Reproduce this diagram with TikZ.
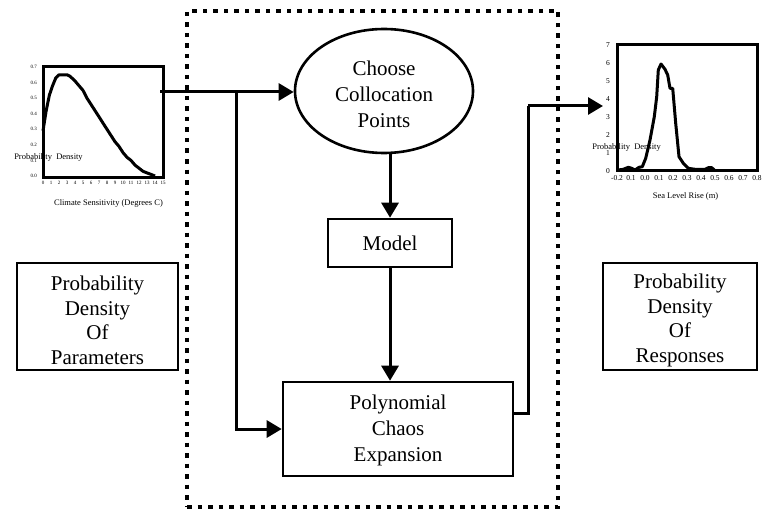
\documentclass[tikz,border=0pt]{standalone}
\usepackage{fontspec}
\setmainfont{Liberation Serif}
\usetikzlibrary{arrows.meta,shapes.geometric}
\tikzset{
  conn/.style={line width=3pt},
  arr/.style={conn,-{Triangle[length=15pt,width=17pt]}},
  bigtext/.style={inner sep=0pt,align=center,font=\fontsize{21}{24.5}\selectfont},
  box/.style={draw,line width=2.6pt,inner sep=0pt,align=center,font=\fontsize{21}{25}\selectfont},
  plainbox/.style={draw,line width=2.6pt,inner sep=0pt},
  ellbox/.style={draw,ellipse,line width=2.6pt,inner sep=0pt},
  dotbox/.style={draw,line width=4.5pt,dash pattern=on 4.5pt off 6pt,inner sep=0pt},
  frame/.style={draw,line width=3pt},
  curve/.style={line width=3pt,line join=round},
  tinylab/.style={font=\fontsize{5}{5}\selectfont,inner sep=0pt},
  smalllab/.style={font=\fontsize{7.5}{7.5}\selectfont,inner sep=0pt},
  axlab/.style={font=\fontsize{8.5}{8.5}\selectfont,inner sep=0pt}
}
\begin{document}
\begin{tikzpicture}[x=1pt,y=-1pt]
\useasboundingbox (0,0) rectangle (770,513);
% group frame
\node[dotbox,minimum width=371pt,minimum height=496pt] (grp) at (372.5,259) {};
% central nodes
\node[ellbox,minimum width=178pt,minimum height=124pt] (ell) at (384,91) {};
\node[bigtext,font=\fontsize{21}{26}\selectfont] (elltxt) at (384,94) {Choose\\Collocation\\Points};
\node[box,minimum width=124pt,minimum height=48pt] (mdl) at (390,243) {Model};
\node[plainbox,minimum width=230pt,minimum height=94pt] (pce) at (398,429) {};
\node[bigtext,font=\fontsize{21}{26}\selectfont] (pcetxt) at (398,430) {Polynomial\\Chaos\\Expansion};
% side boxes
\node[plainbox,minimum width=161pt,minimum height=107pt] (lbox) at (97.5,316.5) {};
\node[bigtext] (ltxt) at (97.5,320.5) {Probability\\Density\\Of\\Parameters};
\node[plainbox,minimum width=154pt,minimum height=107pt] (rbox) at (680,316.5) {};
\node[bigtext] (rtxt) at (680,320.5) {Probability\\Density\\Of\\Responses};
% connectors
\coordinate (src) at (160,92);
\coordinate (br) at (236,92);
\coordinate (rc) at (528,106);
\coordinate (rt) at (603,106);
\draw[arr] (src) -- (src -| ell.west);
\draw[arr] (br) |- (pce.west);
\draw[arr] (mdl.north |- ell.south) -- (mdl.north);
\draw[arr] (mdl.south) -- (mdl.south |- pce.north);
\draw[conn] ([yshift=16pt]pce.east) -| (rc);
\draw[arr] (rc) -- (rt);
% left plot
\draw[frame] (43,67) rectangle (163,177);
\draw[curve] plot coordinates {(43,130.8) (46.2,110.6) (49.4,95.0) (52.6,85.7) (55.8,77.9) (59,74.8) (67,74.8) (70.2,76.4) (75,81.0) (79,85.7) (83,90.4) (87,98.2) (91,104.4) (95,110.6) (99,116.8) (103,123.1) (107,129.3) (111,135.5) (115,141.7) (119,146.4) (123,152.6) (127,157.3) (131,160.4) (135,165.1) (139,168.2) (143,171.3) (147,172.9) (151,174.4) (155,176)};
\foreach \k/\t in {0/0.0,1/0.1,2/0.2,3/0.3,4/0.4,5/0.5,6/0.6,7/0.7}
  \node[tinylab,anchor=east] (ly\k) at (37,176-15.57*\k) {\t};
\foreach \k in {0,...,15}
  \node[tinylab] (lx\k) at (43+8*\k,183) {\k};
\node[axlab] (lpd) at (48.5,157) {Probability~~Density};
\node[axlab] (lcs) at (108.5,203) {Climate Sensitivity (Degrees C)};
% right plot
\draw[frame] (617,45) rectangle (757,171);
\draw[curve] plot coordinates {(618.3,170) (623.3,169.3) (628.3,167.3) (631.7,168.3) (635,170) (639,167.3) (642.3,166.7) (645.7,158.3) (650,140) (654.3,116.7) (656.7,96.7) (658.3,70) (661,64) (665,69.3) (667.7,75) (670,88.3) (672.7,88.3) (675.7,123.3) (679,156.7) (683.3,163.3) (688.3,168.3) (695,169.3) (705,169.3) (708.3,167.7) (711.7,167.7) (714.3,170)};
\foreach \k in {0,...,7}
  \node[smalllab] (ry\k) at (608,171-18*\k) {\k};
\foreach \k/\t in {0/-0.2,1/0.1,2/0.0,3/0.1,4/0.2,5/0.3,6/0.4,7/0.5,8/0.6,9/0.7,10/0.8}
  \node[smalllab] (rx\k) at (617+14*\k,178) {\t};
\node[axlab] (rpd) at (626.5,147) {Probability~~Density};
\node[axlab] (rsl) at (685.5,196) {Sea Level Rise (m)};
\end{tikzpicture}
\end{document}
